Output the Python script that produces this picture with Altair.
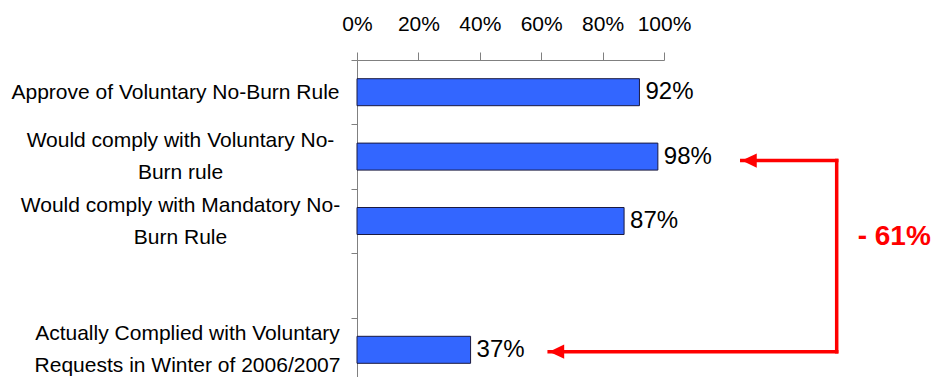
import altair as alt
import pandas as pd

FONT = "Liberation Sans"

# ---- data ----
categories = [
    "Approve of Voluntary No-Burn Rule",
    "Would comply with Voluntary No-\nBurn rule",
    "Would comply with Mandatory No-\nBurn Rule",
    " ",
    "Actually Complied with Voluntary\nRequests in Winter of 2006/2007",
]
values = [0.92, 0.98, 0.87, None, 0.37]
x_ticks = [0, 0.2, 0.4, 0.6, 0.8, 1.0]
# centred multi-line category labels: distance of each label's centre from the tick end
label_pad = [176, 171, 174, 0, 164]

# annotation (x in share units, y in row units: 0 = top of plot, 1 per row)
seg_x = [1.2533, 0.626]
seg_x2 = [1.5625, 1.5625]
seg_y = [1.562, 4.53]
vert_x = [1.5625]
vert_y = [1.562]
vert_y2 = [4.53]
head_x = [1.2533, 0.626]
head_y = [1.562, 4.53]
note_text = ["- 61%"]
note_x = [1.75]
note_y = [2.744]

bar_df = pd.DataFrame({"cat": categories, "val": values}).dropna()
seg_df = pd.DataFrame({"x": seg_x, "x2": seg_x2, "y": seg_y})
vert_df = pd.DataFrame({"x": vert_x, "y": vert_y, "y2": vert_y2})
head_df = pd.DataFrame({"x": head_x, "y": head_y})
note_df = pd.DataFrame({"t": note_text, "x": note_x, "y": note_y})

ROWS_PX = 322
xscale = alt.Scale(domain=[0, 1], nice=False, zero=False)
yband = alt.Scale(domain=categories, range=[0, ROWS_PX], paddingInner=0, paddingOuter=0)
yrow = alt.Scale(domain=[0, 5], range=[0, ROWS_PX], nice=False, zero=False)

# per-label padding, matched on the start of each label's first line
pad_conditions = [
    {"test": "indexof(datum.label, '%s') === 0" % c.split("\n")[0][:12], "value": p}
    for c, p in zip(categories, label_pad) if c.strip()
]

x_axis = alt.Axis(
    orient="top", values=x_ticks, format="%", grid=False, labelOverlap=False,
    domainColor="#808080", tickColor="#808080", tickSize=8,
    labelFont=FONT, labelFontSize=21, labelColor="black", labelPadding=18,
    labelFlush=False, title=None,
)
y_axis = alt.Axis(
    tickBand="extent", grid=False, domainColor="#808080", tickColor="#808080",
    tickSize=6, labelFont=FONT, labelFontSize=21, labelColor="black",
    labelLineHeight=32, labelLimit=0, labelAlign="center",
    labelBaseline="middle", labelExpr="split(datum.label, '\\n')",
    labelPadding={"condition": pad_conditions, "value": 10},
    labelOffset={"condition": {"test": "indexof(datum.label, '\\n') >= 0", "value": -16}, "value": 0},
    title=None,
)

bars = alt.Chart(bar_df).mark_bar(color="#3366FF", stroke="#1A1A40", strokeWidth=1, size=27).encode(
    x=alt.X("val:Q", scale=xscale, axis=x_axis),
    y=alt.Y("cat:N", scale=yband, axis=y_axis),
)
labels = alt.Chart(bar_df).mark_text(
    align="left", baseline="middle", dx=6, font=FONT, fontSize=24, color="black"
).encode(
    x=alt.X("val:Q", scale=xscale),
    y=alt.Y("cat:N", scale=yband),
    text=alt.Text("val:Q", format=".0%"),
)

segs = alt.Chart(seg_df).mark_rule(color="#FF0000", strokeWidth=3.5, strokeCap="square").encode(
    x=alt.X("x:Q", scale=xscale), x2="x2:Q",
    y=alt.Y("y:Q", scale=yrow, axis=None),
)
vert = alt.Chart(vert_df).mark_rule(color="#FF0000", strokeWidth=3.5, strokeCap="square").encode(
    x=alt.X("x:Q", scale=xscale),
    y=alt.Y("y:Q", scale=yrow, axis=None), y2="y2:Q",
)
heads = alt.Chart(head_df).mark_point(
    shape="M0,0L2,-0.95L2,0.95Z", size=225, filled=True, color="#FF0000", opacity=1, strokeWidth=0
).encode(
    x=alt.X("x:Q", scale=xscale),
    y=alt.Y("y:Q", scale=yrow, axis=None),
)
note = alt.Chart(note_df).mark_text(
    align="center", baseline="middle", font=FONT, fontSize=28, fontWeight="bold", color="#FF0000"
).encode(
    x=alt.X("x:Q", scale=xscale),
    y=alt.Y("y:Q", scale=yrow, axis=None),
    text="t:N",
)

chart = alt.layer(
    alt.layer(bars, labels),
    alt.layer(segs, vert, heads, note),
).resolve_scale(y="independent").properties(
    width=307, height=317,
    autosize=alt.AutoSizeParams(type="none"),
    padding={"left": 349, "top": 52, "right": 270, "bottom": 0},
    background="white",
).configure_view(stroke=None)

chart.save("out.html", embed_options={"renderer": "svg", "actions": False})
